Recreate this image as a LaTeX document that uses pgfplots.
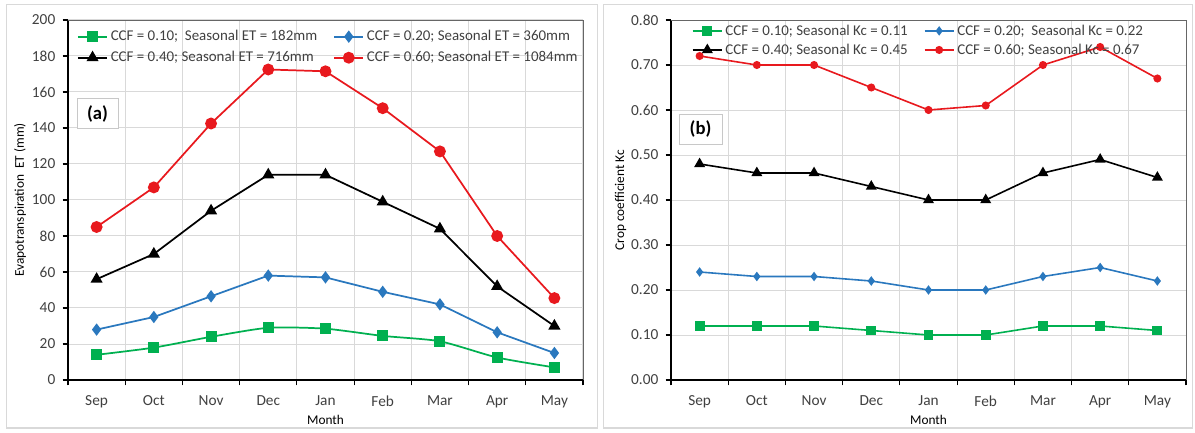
\documentclass[border=0pt]{standalone}
\usepackage{fontspec}
\setmainfont{Carlito}
\usepackage{pgfplots}
\pgfplotsset{compat=1.18}

\definecolor{ccfgreen}{HTML}{00B050}
\definecolor{ccfblue}{HTML}{2A78BE}
\definecolor{ccfred}{HTML}{E8191E}
\definecolor{labgray}{HTML}{404040}
\definecolor{gridgray}{HTML}{D9D9D9}
\definecolor{boxgray}{HTML}{C8C8C8}

\pgfplotsset{
  panel/.style={
    scale only axis, width=386.25pt, height=270pt,
    xmin=0.5, xmax=9.5,
    xtick={1,...,9},
    xticklabels={Sep,Oct,Nov,Dec,Jan,Feb,Mar,Apr,May},
    minor xtick={0.5,1.5,...,9.5},
    major x tick style={draw=none},
    xminorgrids=true, ymajorgrids=true,
    major grid style={draw=gridgray, line width=0.75pt},
    minor grid style={draw=gridgray, line width=0.75pt},
    axis lines*=left,
    axis line style={black, line width=1.4pt},
    tick align=outside,
    major tick length=4pt, minor tick length=4pt,
    tick style={black, line width=0.9pt},
    ticklabel style={font=\fontsize{11.5}{13}\selectfont, text=labgray},
    xticklabel style={yshift=-4pt},
    yticklabel style={xshift=-2pt},
    /pgf/number format/assume math mode=true,
    scaled y ticks=false,
    xlabel=Month,
    label style={font=\fontsize{10.8}{12}\selectfont, text=labgray},
    every axis x label/.style={at={(axis description cs:0.5,-0.112)}, anchor=center},
    legend columns=2,
    legend cell align=left,
    legend style={draw=none, fill=none, inner sep=0pt,
      font=\fontsize{11.2}{13}\selectfont, text=labgray,
      anchor=north west, row sep=1pt,
      /tikz/every even column/.append style={column sep=10pt}},
    legend image code/.code={\draw[mark repeat=2,mark phase=2]
      plot coordinates {(0pt,0pt) (11pt,0pt) (22pt,0pt)};},
    clip=false,
  },
}

\begin{document}
\begin{tikzpicture}
\useasboundingbox (0,0) rectangle (896.25pt,324pt);
\draw[gridgray, line width=0.8pt] (5pt,3pt) rectangle (448pt,320.5pt);
\draw[gridgray, line width=0.8pt] (452.5pt,3pt) rectangle (894.5pt,320.5pt);

% (a) evapotranspiration
\begin{axis}[panel, at={(51pt,39pt)}, anchor=south west,
  ymin=0, ymax=200, ytick={0,20,...,200},
  ylabel={Evapotranspiration\ \ ET (mm)},
  every axis y label/.style={at={(axis description cs:-0.093,0.5)}, rotate=90, anchor=center},
  legend style={at={(axis description cs:0.017,0.979)}, row sep=2.5pt},
  every axis plot/.append style={line width=1.3pt}]
\draw[gray!80!black, line width=0.6pt] (rel axis cs:0,1) -- (rel axis cs:1,1) -- (rel axis cs:1,0);
\addplot[ccfgreen, smooth, tension=0.4, mark=square*, mark size=3.5pt] coordinates {
  (1,14) (2,18) (3,24) (4,29) (5,28.5) (6,24.5) (7,21.5) (8,12.5) (9,7)};
\addlegendentry{CCF = 0.10;\ \ Seasonal ET = 182mm}
\addplot[ccfblue, mark=diamond*, mark size=3.6pt] coordinates {
  (1,28) (2,35) (3,46.5) (4,58) (5,57) (6,49) (7,42) (8,26.5) (9,15)};
\addlegendentry{CCF = 0.20; Seasonal ET = 360mm}
\addplot[black, mark=triangle*, mark size=4pt] coordinates {
  (1,56) (2,70) (3,94) (4,114) (5,114) (6,99) (7,84) (8,52) (9,30)};
\addlegendentry{CCF = 0.40; Seasonal ET = 716mm}
\addplot[ccfred, mark=*, mark size=3.8pt] coordinates {
  (1,85) (2,107) (3,142.5) (4,172.5) (5,171.5) (6,151) (7,127) (8,80) (9,45.5)};
\addlegendentry{CCF = 0.60; Seasonal ET = 1084mm}
\node[draw=boxgray, fill=white, line width=0.6pt, minimum width=30.75pt, minimum height=22.5pt,
  font=\bfseries\fontsize{14}{16}\selectfont] at (axis cs:1.016,148) {(a)};
\end{axis}

% (b) crop coefficient
\begin{axis}[panel, at={(503.25pt,39pt)}, anchor=south west,
  ymin=0, ymax=0.8, ytick={0,0.1,...,0.8},
  yticklabel style={/pgf/number format/.cd, fixed, fixed zerofill, precision=2},
  ylabel={Crop coefficient Kc},
  every axis y label/.style={at={(axis description cs:-0.098,0.5)}, rotate=90, anchor=center},
  legend style={at={(axis description cs:0.04,0.995)}},
  every axis plot/.append style={line width=1.2pt}]
\draw[gray!80!black, line width=0.6pt] (rel axis cs:0,1) -- (rel axis cs:1,1) -- (rel axis cs:1,0);
\addplot[ccfgreen, mark=square*, mark size=3.1pt] coordinates {
  (1,0.12) (2,0.12) (3,0.12) (4,0.11) (5,0.10) (6,0.10) (7,0.12) (8,0.12) (9,0.11)};
\addlegendentry{CCF = 0.10; Seasonal Kc = 0.11}
\addplot[ccfblue, mark=diamond*, mark size=2.6pt] coordinates {
  (1,0.24) (2,0.23) (3,0.23) (4,0.22) (5,0.20) (6,0.20) (7,0.23) (8,0.25) (9,0.22)};
\addlegendentry{CCF = 0.20;\ \ Seasonal Kc = 0.22}
\addplot[black, mark=triangle*, mark size=3.6pt] coordinates {
  (1,0.48) (2,0.46) (3,0.46) (4,0.43) (5,0.40) (6,0.40) (7,0.46) (8,0.49) (9,0.45)};
\addlegendentry{CCF = 0.40; Seasonal Kc = 0.45}
\addplot[ccfred, mark=*, mark size=2.4pt] coordinates {
  (1,0.72) (2,0.70) (3,0.70) (4,0.65) (5,0.60) (6,0.61) (7,0.70) (8,0.74) (9,0.67)};
\addlegendentry{CCF = 0.60; Seasonal Kc = 0.67}
\node[draw=boxgray, fill=white, line width=0.6pt, minimum width=32.25pt, minimum height=22.5pt,
  font=\bfseries\fontsize{14}{16}\selectfont] at (axis cs:1.016,0.558) {(b)};
\end{axis}
\end{tikzpicture}
\end{document}
